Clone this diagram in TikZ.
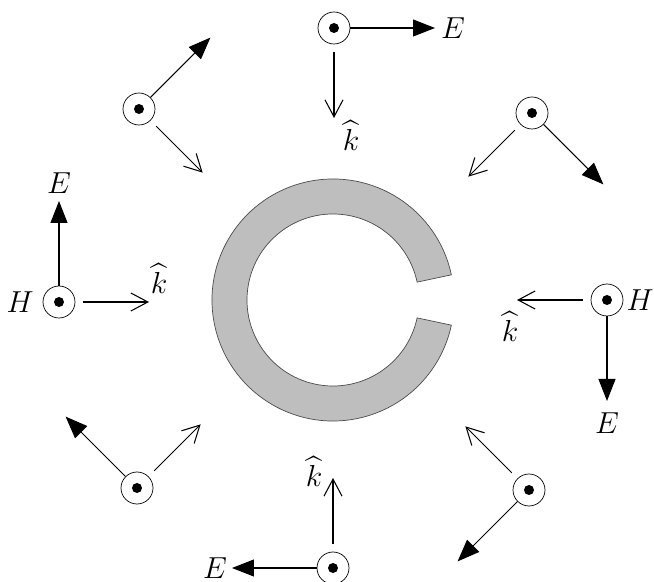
\documentclass[tikz,border=0pt]{standalone}
\usepackage{amsmath, amssymb}
\usepackage{tikz}
\usetikzlibrary{arrows.meta, positioning, calc}

\definecolor{RingGray}{RGB}{190,190,190}

\tikzset{
  source/.style={circle, draw, thin, minimum size=0.64cm, inner sep=0pt,
    path picture={\fill (path picture bounding box.center) circle (0.1);}},
  efield/.style={-{Triangle[length=4.4mm, width=3.4mm]}, line width=0.6pt},
  kvec/.style={-{Straight Barb[length=3.4mm, width=3.6mm]}, line width=0.6pt, shorten <=0.16cm},
  lbl/.style={font=\LARGE, inner sep=1pt}
}

\begin{document}
\begin{tikzpicture}
  \useasboundingbox (-6.66,6.0) rectangle (6.42,-5.64);

  % split ring
  \filldraw[fill=RingGray, draw=black!70, thin]
    (12:2.42) arc (12:348:2.42) -- (348:1.72) arc (348:12:1.72) -- cycle;

  % sources around the ring
  \foreach \a/\n/\x/\y in {90/t/0.02/5.44, 45/tr/3.98/3.74, 0/r/5.48/0, 315/br/3.92/-3.8,
                           270/b/0/-5.36, 225/bl/-3.92/-3.76, 180/l/-5.48/-0.04, 135/tl/-3.88/3.82} {
    \node[source] (s\n) at (\x,\y) {};
    \path (s\n.center) ++(\a-90:2.02) coordinate (e\n);
    \path (s\n.center) ++(\a+180:1.8) coordinate (k\n);
    \draw[efield] (s\n) -- (e\n);
    \draw[kvec] (s\n) -- (k\n);
  }

  % labels
  \node[lbl] (Et) at ($(et)+(0.36,0)$) {$E$};
  \node[lbl] (Kt) at ($(kt)+(0.34,-0.36)$) {$\widehat{k}$};
  \node[lbl] (El) at ($(el)+(0,0.36)$) {$E$};
  \node[lbl] (Hl) at ($(sl)+(-0.78,0)$) {$H$};
  \node[lbl] (Kl) at ($(kl)+(0.2,0.46)$) {$\widehat{k}$};
  \node[lbl] (Hr) at ($(sr)+(0.66,0)$) {$H$};
  \node[lbl] (Kr) at ($(kr)+(-0.14,-0.54)$) {$\widehat{k}$};
  \node[lbl] (Er) at ($(er)+(0,-0.44)$) {$E$};
  \node[lbl] (Kb) at ($(kb)+(-0.38,0.12)$) {$\widehat{k}$};
  \node[lbl] (Eb) at ($(eb)+(-0.34,0)$) {$E$};
\end{tikzpicture}
\end{document}
